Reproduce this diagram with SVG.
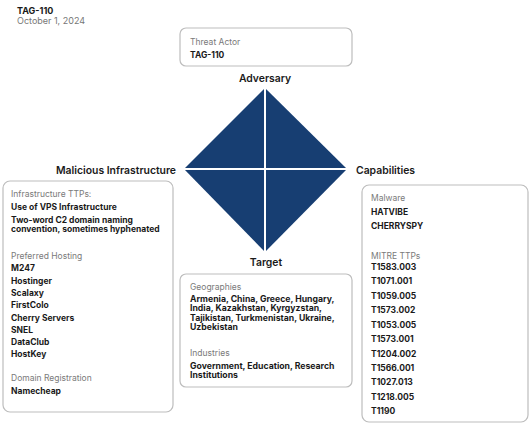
<svg xmlns="http://www.w3.org/2000/svg" width="530" height="442" viewBox="0 0 530 442">
<style>
text{font-family:Inter,"Noto Sans","Liberation Sans",sans-serif}
.box{fill:#fff;stroke:#bdbdbd;stroke-width:1.2}
.hd{font-size:10.4px;font-weight:600;fill:#1a1a1a}
.lb{font-size:8.5px;fill:#7a7a7a}
.it{font-size:8.5px;font-weight:700;fill:#1a1a1a}
.it2{font-size:8.7px;font-weight:700;fill:#1a1a1a}
.t1{font-size:9px;font-weight:700;fill:#1a1a1a}
.t2{font-size:9px;fill:#777}
</style>
<rect width="530" height="442" fill="#fff"/>
<g id="title">
<text class="t1" x="17" y="14">TAG-110</text>
<text class="t2" x="17" y="24">October 1, 2024</text>
</g>
<g id="diamond">
<polygon points="265,88 347,169 265,252 184,169" fill="#173e72"/>
</g>
<g id="connectors">
<line x1="265" y1="86" x2="265" y2="254" stroke="#fff" stroke-width="2"/>
<line x1="182" y1="169" x2="349" y2="169" stroke="#fff" stroke-width="2"/>
</g>
<g id="adversary">
<rect class="box" x="180" y="28" width="172" height="38" rx="6"/>
<text class="lb" x="190" y="45">Threat Actor</text>
<text class="it" x="190" y="58">TAG-110</text>
<text class="hd" x="265" y="82" text-anchor="middle">Adversary</text>
</g>
<g id="infrastructure">
<text class="hd" x="176" y="174" text-anchor="end">Malicious Infrastructure</text>
<rect class="box" x="3" y="181" width="170" height="231" rx="7"/>
<text class="lb" x="11" y="197">Infrastructure TTPs:</text>
<text class="it" x="11" y="210">Use of VPS Infrastructure</text>
<text class="it" x="11" y="222.5">Two-word C2 domain naming</text>
<text class="it" x="11" y="232">convention, sometimes hyphenated</text>
<text class="lb" x="11" y="259">Preferred Hosting</text>
<text class="it" x="11" y="271">M247</text>
<text class="it" x="11" y="284">Hostinger</text>
<text class="it" x="11" y="296">Scalaxy</text>
<text class="it" x="11" y="308">FirstColo</text>
<text class="it" x="11" y="321">Cherry Servers</text>
<text class="it" x="11" y="333">SNEL</text>
<text class="it" x="11" y="345">DataClub</text>
<text class="it" x="11" y="357">HostKey</text>
<text class="lb" x="11" y="381">Domain Registration</text>
<text class="it" x="11" y="394">Namecheap</text>
</g>
<g id="capabilities">
<text class="hd" x="356" y="174">Capabilities</text>
<rect class="box" x="362" y="185" width="166" height="237" rx="7"/>
<text class="lb" x="371" y="201">Malware</text>
<text class="it" x="371" y="215">HATVIBE</text>
<text class="it" x="371" y="229">CHERRYSPY</text>
<text class="lb" x="371" y="259">MITRE TTPs</text>
<text class="it" x="371" y="270">T1583.003</text>
<text class="it" x="371" y="284">T1071.001</text>
<text class="it" x="371" y="299">T1059.005</text>
<text class="it" x="371" y="313">T1573.002</text>
<text class="it" x="371" y="328">T1053.005</text>
<text class="it" x="371" y="342">T1573.001</text>
<text class="it" x="371" y="357">T1204.002</text>
<text class="it" x="371" y="371">T1566.001</text>
<text class="it" x="371" y="385">T1027.013</text>
<text class="it" x="371" y="400">T1218.005</text>
<text class="it" x="371" y="414">T1190</text>
</g>
<g id="target">
<text class="hd" x="266" y="266" text-anchor="middle">Target</text>
<rect class="box" x="180" y="274" width="172" height="113" rx="6"/>
<text class="lb" x="190" y="290">Geographies</text>
<text class="it2" x="190" y="301.5">Armenia, China, Greece, Hungary,</text>
<text class="it2" x="190" y="311">India, Kazakhstan, Kyrgyzstan,</text>
<text class="it2" x="190" y="320.5">Tajikistan, Turkmenistan, Ukraine,</text>
<text class="it2" x="190" y="330">Uzbekistan</text>
<text class="lb" x="190" y="356">Industries</text>
<text class="it2" x="190" y="368.5">Government, Education, Research</text>
<text class="it2" x="190" y="378">Institutions</text>
</g>
</svg>
